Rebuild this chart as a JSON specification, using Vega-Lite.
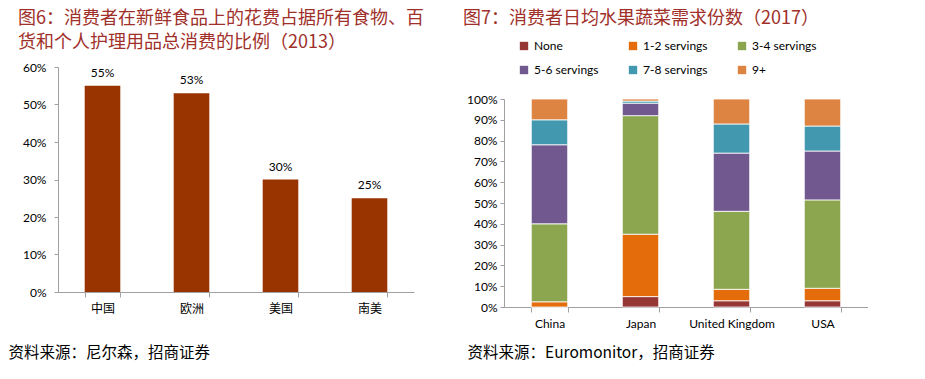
{
  "$schema": "https://vega.github.io/schema/vega-lite/v6.json",
  "background": "white",
  "padding": {"left": 8, "top": 10, "right": 0, "bottom": 0},
  "spacing": 39,
  "config": {
    "view": {"stroke": null},
    "font": "Lato",
    "axis": {
      "domainColor": "#A0A0A0",
      "tickColor": "#A0A0A0",
      "labelColor": "#000000",
      "labelFont": "Lato",
      "labelFontSize": 12,
      "grid": false
    },
    "title": {
      "font": "Noto Sans CJK SC",
      "fontSize": 18,
      "fontWeight": "normal",
      "color": "#A0302A",
      "anchor": "start",
      "frame": "group",
      "lineHeight": 24,
      "baseline": "top"
    }
  },
  "hconcat": [
    {
      "width": 356,
      "height": 225,
      "title": {
        "text": ["图6：消费者在新鲜食品上的花费占据所有食物、百", "货和个人护理用品总消费的比例（2013）"],
        "dx": -40,
        "offset": 9
      },
      "data": {
        "values": [
          {"region": "中国", "share": 0.55},
          {"region": "欧洲", "share": 0.53},
          {"region": "美国", "share": 0.30},
          {"region": "南美", "share": 0.25}
        ]
      },
      "encoding": {
        "x": {
          "field": "region",
          "type": "nominal",
          "sort": null,
          "scale": {"paddingInner": 0.6, "paddingOuter": 0.3},
          "axis": {
            "title": "资料来源：尼尔森，招商证券",
            "titleFont": "Noto Sans CJK SC",
            "titleFontSize": 15.5,
            "titleFontWeight": "normal",
            "titleColor": "#000000",
            "titleAnchor": "start",
            "titleAlign": "left",
            "titleBaseline": "middle",
            "titleX": -50,
            "titleY": 60,
            "labelAngle": 0,
            "labelFont": "Noto Sans CJK SC",
            "labelFontSize": 12,
            "labelPadding": 6,
            "tickBand": "extent",
            "tickSize": 5
          }
        },
        "y": {
          "field": "share",
          "type": "quantitative",
          "scale": {"domain": [0, 0.6], "nice": false},
          "axis": {
            "title": null,
            "format": ".0%",
            "values": [0, 0.1, 0.2, 0.3, 0.4, 0.5, 0.6],
            "labelOverlap": false,
            "tickSize": 4,
            "labelPadding": 8
          }
        }
      },
      "layer": [
        {"mark": {"type": "bar", "color": "#993300"}},
        {
          "mark": {"type": "text", "dy": -13, "fontSize": 12, "font": "Lato", "color": "#000000"},
          "encoding": {"text": {"field": "share", "type": "quantitative", "format": ".0%"}}
        }
      ]
    },
    {
      "width": 364,
      "height": 240,
      "title": {
        "text": "图7：消费者日均水果蔬菜需求份数（2017）",
        "dx": -41,
        "offset": 39
      },
      "data": {
        "values": [
          {"country": "China", "servings": "None", "rank": 1, "pct": 0.0},
          {"country": "China", "servings": "1-2 servings", "rank": 2, "pct": 0.025},
          {"country": "China", "servings": "3-4 servings", "rank": 3, "pct": 0.375},
          {"country": "China", "servings": "5-6 servings", "rank": 4, "pct": 0.38},
          {"country": "China", "servings": "7-8 servings", "rank": 5, "pct": 0.12},
          {"country": "China", "servings": "9+", "rank": 6, "pct": 0.10},
          {"country": "Japan", "servings": "None", "rank": 1, "pct": 0.05},
          {"country": "Japan", "servings": "1-2 servings", "rank": 2, "pct": 0.30},
          {"country": "Japan", "servings": "3-4 servings", "rank": 3, "pct": 0.57},
          {"country": "Japan", "servings": "5-6 servings", "rank": 4, "pct": 0.06},
          {"country": "Japan", "servings": "7-8 servings", "rank": 5, "pct": 0.01},
          {"country": "Japan", "servings": "9+", "rank": 6, "pct": 0.01},
          {"country": "United Kingdom", "servings": "None", "rank": 1, "pct": 0.03},
          {"country": "United Kingdom", "servings": "1-2 servings", "rank": 2, "pct": 0.055},
          {"country": "United Kingdom", "servings": "3-4 servings", "rank": 3, "pct": 0.375},
          {"country": "United Kingdom", "servings": "5-6 servings", "rank": 4, "pct": 0.28},
          {"country": "United Kingdom", "servings": "7-8 servings", "rank": 5, "pct": 0.14},
          {"country": "United Kingdom", "servings": "9+", "rank": 6, "pct": 0.12},
          {"country": "USA", "servings": "None", "rank": 1, "pct": 0.03},
          {"country": "USA", "servings": "1-2 servings", "rank": 2, "pct": 0.06},
          {"country": "USA", "servings": "3-4 servings", "rank": 3, "pct": 0.425},
          {"country": "USA", "servings": "5-6 servings", "rank": 4, "pct": 0.235},
          {"country": "USA", "servings": "7-8 servings", "rank": 5, "pct": 0.12},
          {"country": "USA", "servings": "9+", "rank": 6, "pct": 0.13}
        ]
      },
      "mark": {"type": "bar", "stroke": "white", "strokeWidth": 0.8},
      "encoding": {
        "x": {
          "field": "country",
          "type": "nominal",
          "sort": null,
          "scale": {"paddingInner": 0.6, "paddingOuter": 0.3},
          "axis": {
            "title": "资料来源：Euromonitor，招商证券",
            "titleFont": "Noto Sans CJK SC",
            "titleFontSize": 15.5,
            "titleFontWeight": "normal",
            "titleColor": "#000000",
            "titleAnchor": "start",
            "titleAlign": "left",
            "titleBaseline": "middle",
            "titleX": -37,
            "titleY": 45,
            "labelAngle": 0,
            "labelPadding": 6,
            "tickBand": "extent",
            "tickSize": 5
          }
        },
        "y": {
          "field": "pct",
          "type": "quantitative",
          "stack": "zero",
          "scale": {"domain": [0, 1], "range": [240, 32], "nice": false},
          "axis": {
            "title": null,
            "format": ".0%",
            "values": [0, 0.1, 0.2, 0.3, 0.4, 0.5, 0.6, 0.7, 0.8, 0.9, 1.0],
            "labelOverlap": false,
            "tickSize": 4,
            "labelPadding": 3
          }
        },
        "color": {
          "field": "servings",
          "type": "nominal",
          "sort": ["None", "1-2 servings", "3-4 servings", "5-6 servings", "7-8 servings", "9+"],
          "scale": {
            "domain": ["None", "1-2 servings", "3-4 servings", "5-6 servings", "7-8 servings", "9+"],
            "range": ["#953735", "#E46C0A", "#8BA64E", "#71588F", "#4198AF", "#DD8443"]
          },
          "legend": {
            "title": null,
            "orient": "none",
            "legendX": 460,
            "legendY": -27,
            "direction": "horizontal",
            "columns": 3,
            "gridAlign": "all",
            "columnPadding": 28,
            "rowPadding": 12,
            "symbolType": "square",
            "symbolSize": 70,
            "symbolStrokeWidth": 0,
            "labelFont": "Lato",
            "labelFontSize": 12,
            "labelColor": "#000000",
            "labelOffset": 4
          }
        },
        "order": {"field": "rank", "type": "quantitative", "sort": "ascending"}
      }
    }
  ]
}
